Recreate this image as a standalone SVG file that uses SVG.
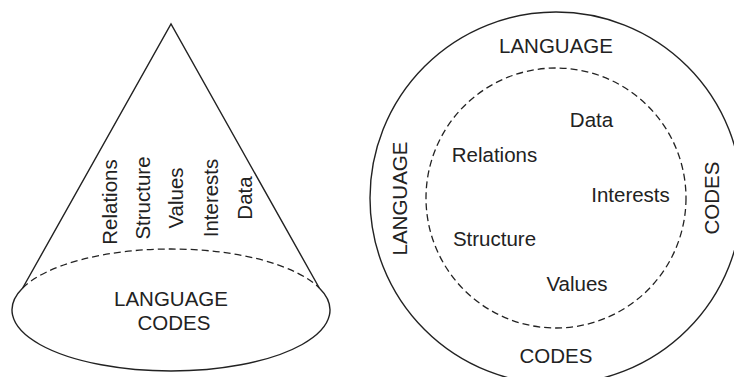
<svg xmlns="http://www.w3.org/2000/svg" width="734" height="377" viewBox="0 0 734 377">
<style>
.s{fill:none;stroke:#222;stroke-width:1.4}
.d{fill:none;stroke:#222;stroke-width:1.3;stroke-dasharray:7 4}
text{font-family:"Liberation Sans",Arial,sans-serif;font-size:20.5px;fill:#222}
.m{text-anchor:middle}
</style>
<rect width="734" height="377" fill="#fff"/>
<g id="cone">
<path class="s" d="M22.7,288 L171,24 L319.3,288"/>
<path class="s" d="M22.7,288 A159,61 0 1,0 319.3,288"/>
<path class="d" d="M22.7,288 A159,61 0 0,1 319.3,288"/>
<text class="m" x="171" y="306">LANGUAGE</text>
<text class="m" x="174" y="330">CODES</text>
<text class="m" transform="translate(117,202) rotate(-90)">Relations</text>
<text class="m" transform="translate(150,198) rotate(-90)">Structure</text>
<text class="m" transform="translate(183,198) rotate(-90)">Values</text>
<text class="m" transform="translate(218,198) rotate(-90)">Interests</text>
<text class="m" transform="translate(252,198) rotate(-90)">Data</text>
</g>
<g id="circles">
<circle class="s" cx="556" cy="198" r="186"/>
<circle class="d" cx="556" cy="198" r="130"/>
<text class="m" x="556" y="53">LANGUAGE</text>
<text class="m" x="556" y="363">CODES</text>
<text class="m" transform="translate(407,198.5) rotate(-90)">LANGUAGE</text>
<text class="m" transform="translate(719,198) rotate(-90)">CODES</text>
<text class="m" x="591.5" y="127">Data</text>
<text class="m" x="494.5" y="162">Relations</text>
<text class="m" x="630.5" y="202">Interests</text>
<text class="m" x="494.5" y="246">Structure</text>
<text class="m" x="577" y="291">Values</text>
</g>
<g id="connectors"/>
</svg>
